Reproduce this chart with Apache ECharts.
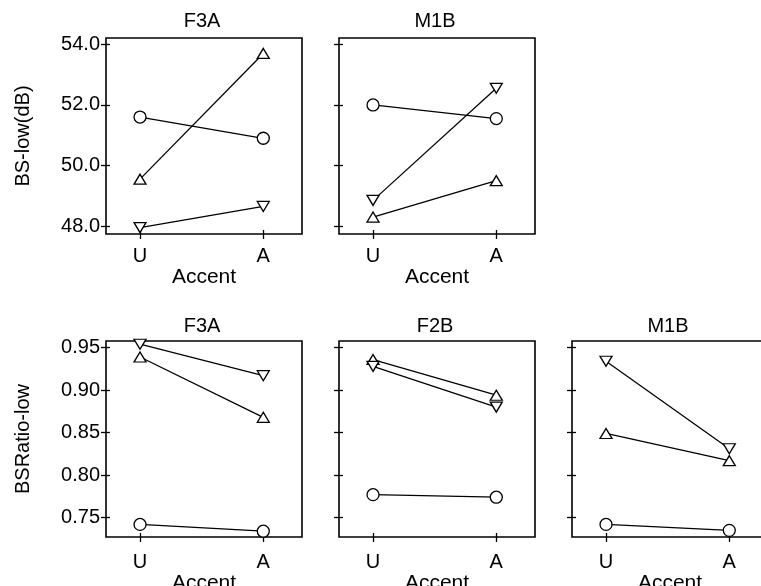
<!DOCTYPE html>
<html>
<head>
<meta charset="utf-8">
<script src="https://cdn.jsdelivr.net/npm/echarts@6/dist/echarts.min.js"></script>
<style>html,body{margin:0;padding:0;background:#fff;}#c{width:761px;height:586px;}</style>
</head>
<body>
<div id="c"></div>
<script>
const categories = ['U', 'A'];
const topPanels = ['F3A', 'M1B'];
const bottomPanels = ['F3A', 'F2B', 'M1B'];
const topYName = 'BS-low(dB)';
const bottomYName = 'BSRatio-low';
const xName = 'Accent';

// BS-low(dB)
const bsLow_F3A_circle = [51.6, 50.9];
const bsLow_F3A_up = [49.55, 53.7];
const bsLow_F3A_down = [47.95, 48.65];
const bsLow_M1B_circle = [52.0, 51.55];
const bsLow_M1B_up = [48.3, 49.5];
const bsLow_M1B_down = [48.85, 52.55];

// BSRatio-low
const ratio_F3A_circle = [0.742, 0.734];
const ratio_F3A_up = [0.939, 0.868];
const ratio_F3A_down = [0.954, 0.917];
const ratio_F2B_circle = [0.777, 0.774];
const ratio_F2B_up = [0.936, 0.894];
const ratio_F2B_down = [0.928, 0.880];
const ratio_M1B_circle = [0.742, 0.735];
const ratio_M1B_up = [0.849, 0.817];
const ratio_M1B_down = [0.934, 0.831];

const bsTicks = [48, 50, 52, 54];
const bsTickLabels = ['48.0', '50.0', '52.0', '54.0'];
const ratioTicks = [0.75, 0.80, 0.85, 0.90, 0.95];
const ratioTickLabels = ['0.75', '0.80', '0.85', '0.90', '0.95'];

const topData = [
  [bsLow_F3A_circle, bsLow_F3A_up, bsLow_F3A_down],
  [bsLow_M1B_circle, bsLow_M1B_up, bsLow_M1B_down]
];
const bottomData = [
  [ratio_F3A_circle, ratio_F3A_up, ratio_F3A_down],
  [ratio_F2B_circle, ratio_F2B_up, ratio_F2B_down],
  [ratio_M1B_circle, ratio_M1B_up, ratio_M1B_down]
];

const FONT = 'Liberation Sans, Arial, Helvetica, sans-serif';
const FS = 20;
const panelW = 196, panelH = 196;
const panels = [
  {title: topPanels[0], left: 106, top: 38, row: 0, data: topData[0], first: true},
  {title: topPanels[1], left: 339, top: 38, row: 0, data: topData[1], first: false},
  {title: bottomPanels[0], left: 106, top: 341, row: 1, data: bottomData[0], first: true},
  {title: bottomPanels[1], left: 339, top: 341, row: 1, data: bottomData[1], first: false},
  {title: bottomPanels[2], left: 572, top: 341, row: 1, data: bottomData[2], first: false}
];

const grids = [], xAxes = [], yAxes = [], series = [], titles = [];
const markers = [
  {symbol: 'circle', size: 12, rotate: 0},
  {symbol: 'triangle', size: [12, 10], rotate: 0},
  {symbol: 'triangle', size: [12, 10], rotate: 180}
];

panels.forEach((p, i) => {
  grids.push({left: p.left, top: p.top, width: panelW, height: panelH,
    containLabel: false, outerBoundsMode: 'none',
    show: true, borderColor: '#000', borderWidth: 1.6, backgroundColor: 'transparent'});
  titles.push({text: p.title, left: p.left + panelW / 2 - 2, top: p.row === 0 ? 11 : 316,
    textAlign: 'center', padding: 0,
    textStyle: {fontFamily: FONT, fontSize: FS, fontWeight: 'normal', color: '#000'}});
  const xBase = {type: 'value', gridIndex: i, min: 0.724, max: 2.314,
    splitLine: {show: false}, axisLine: {show: false}};
  xAxes.push(Object.assign({}, xBase, {
    position: 'bottom',
    name: xName, nameLocation: 'middle', nameGap: p.row === 0 ? 30 : 34,
    nameTextStyle: {fontFamily: FONT, fontSize: 21, color: '#000'},
    axisTick: {show: true, inside: false, length: 5, customValues: [1, 2], lineStyle: {color: '#000', width: 1.3}},
    axisLabel: {show: true, customValues: [1, 2], margin: p.row === 0 ? 12 : 15, fontFamily: FONT, fontSize: FS, color: '#000',
      formatter: v => categories[Math.round(v) - 1] || ''}
  }));
  xAxes.push(Object.assign({}, xBase, {
    position: 'bottom',
    axisTick: {show: true, inside: true, length: 4, customValues: [1, 2], lineStyle: {color: '#000', width: 1.3}},
    axisLabel: {show: false}
  }));
  const isTop = p.row === 0;
  const yMin = isTop ? 47.74 : 0.7272;
  const yMax = isTop ? 54.21 : 0.9578;
  const ticks = isTop ? bsTicks : ratioTicks;
  const labels = isTop ? bsTickLabels : ratioTickLabels;
  const yBase = {type: 'value', gridIndex: i, min: yMin, max: yMax,
    splitLine: {show: false}, axisLine: {show: false}, position: 'left'};
  yAxes.push(Object.assign({}, yBase, {
    name: p.first ? (isTop ? topYName : bottomYName) : '',
    nameLocation: 'middle', nameGap: 73, nameRotate: 90,
    nameTextStyle: {fontFamily: FONT, fontSize: FS, color: '#000'},
    axisTick: {show: true, inside: false, length: 5, customValues: ticks, lineStyle: {color: '#000', width: 1.3}},
    axisLabel: {show: p.first, customValues: ticks, margin: 6, fontFamily: FONT, fontSize: FS, color: '#000',
      formatter: v => { const k = ticks.findIndex(t => Math.abs(t - v) < 1e-6); return k >= 0 ? labels[k] : ''; }}
  }));
  yAxes.push(Object.assign({}, yBase, {
    axisTick: {show: true, inside: true, length: 4, customValues: ticks, lineStyle: {color: '#000', width: 1.3}},
    axisLabel: {show: false}
  }));
  p.data.forEach((vals, s) => {
    const m = markers[s];
    series.push({
      type: 'line', xAxisIndex: 2 * i, yAxisIndex: 2 * i,
      data: vals.map((v, k) => [k + 1, v]),
      symbol: m.symbol, symbolSize: m.size, symbolRotate: m.rotate, showAllSymbol: true,
      lineStyle: {color: '#000', width: 1.3},
      itemStyle: {color: '#fff', borderColor: '#000', borderWidth: 1.3},
      emphasis: {disabled: true}, animation: false, z: 3 + s
    });
  });
});

const chart = echarts.init(document.getElementById('c'), null, {renderer: 'canvas'});
chart.setOption({
  animation: false,
  backgroundColor: '#fff',
  title: titles,
  grid: grids,
  xAxis: xAxes,
  yAxis: yAxes,
  series: series
});
</script>
</body>
</html>
